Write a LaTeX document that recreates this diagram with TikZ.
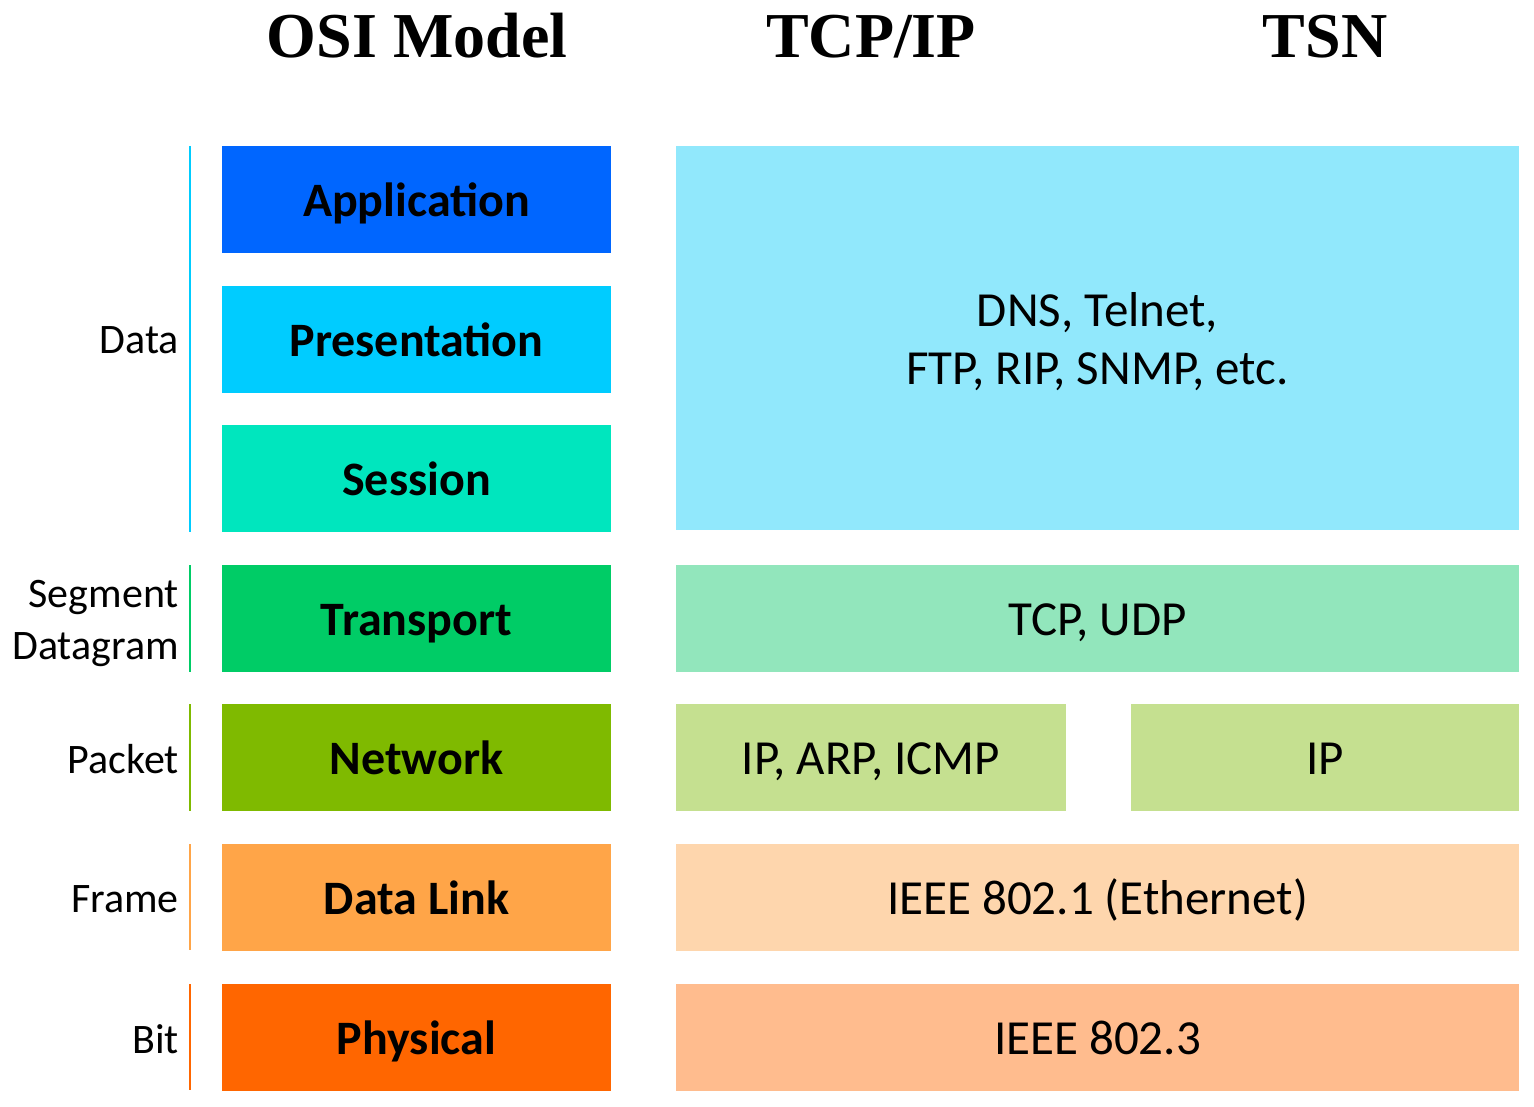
\documentclass[tikz,border=0pt]{standalone}
\usepackage{fontspec}
\setmainfont{Carlito}
\newfontfamily\titlefont{Liberation Serif}
\definecolor{appl}{HTML}{0066FF}
\definecolor{pres}{HTML}{00CCFF}
\definecolor{sess}{HTML}{00E6BE}
\definecolor{tran}{HTML}{00CC66}
\definecolor{netw}{HTML}{7FBA00}
\definecolor{link}{HTML}{FFA548}
\definecolor{phys}{HTML}{FF6600}
\definecolor{upper}{HTML}{91E8FC}
\definecolor{tcpudp}{HTML}{92E6BC}
\definecolor{ip}{HTML}{C5E090}
\definecolor{eth}{HTML}{FED6AD}
\definecolor{wire}{HTML}{FFBC8E}

\begin{document}
\begin{tikzpicture}[x=1pt,y=-1pt,
  layer/.style={minimum width=389pt,minimum height=107pt,inner sep=0pt,
    text height=34pt,text depth=0pt,
    font=\fontsize{48}{58}\selectfont\bfseries},
  proto/.style={minimum height=107pt,inner sep=0pt,align=center,
    text height=34pt,text depth=0pt,
    font=\fontsize{49}{58}\selectfont},
  unit/.style={anchor=east,inner sep=0pt,align=right,
    font=\fontsize{42}{52}\selectfont},
  head/.style={anchor=base,inner sep=0pt,
    font=\titlefont\fontsize{64}{70}\selectfont\bfseries},
  bar/.style={line width=2pt}]
\useasboundingbox (0,0) rectangle (1534,1107);

% headings
\node (osi) at (417,58)  [head] {OSI Model};
\node (tcp) at (871,58)  [head] {TCP/IP};
\node (tsn) at (1325,58) [head] {TSN};

% OSI layers
\node (app)  at (416.5,199.5)  [layer,fill=appl] {Application};
\node (pre)  at (416.5,339.5)  [layer,fill=pres] {Presentation};
\node (ses)  at (416.5,478.5)  [layer,fill=sess] {Session};
\node (tra)  at (416.5,618.5)  [layer,fill=tran] {Transport};
\node (net)  at (416.5,757.5)  [layer,fill=netw] {Network};
\node (dli)  at (416.5,897.5)  [layer,fill=link] {Data Link};
\node (phy)  at (416.5,1037.5) [layer,fill=phys] {Physical};

% data units
\node (data) at (179,340)  [unit] {Data};
\node (seg)  at (179,623)  [unit] {Segment\\Datagram};
\node (pkt)  at (179,759)  [unit] {Packet};
\node (frm)  at (179,899)  [unit] {Frame};
\node (bit)  at (179,1039) [unit] {Bit};
\draw [bar,pres] (190,146) -- (190,532);
\draw [bar,tran] (190,565) -- (190,672);
\draw [bar,netw] (190,704) -- (190,811);
\draw [bar,link] (190,844) -- (190,950);
\draw [bar,phys] (190,984) -- (190,1090);

% protocols
\node (dns)  at (1097.5,338)    [fill=upper,minimum width=843pt,minimum height=384pt,inner sep=0pt] {};
\node (dnstxt) at (1097.5,342)  [inner sep=0pt,align=center,font=\fontsize{49}{58}\selectfont]
  {DNS, Telnet,\\FTP, RIP, SNMP, etc.};
\node (udp)  at (1097.5,618.5)  [proto,fill=tcpudp,minimum width=843pt] {TCP, UDP};
\node (ipa)  at (871,757.5)     [proto,fill=ip,minimum width=390pt] {IP, ARP, ICMP};
\node (ipb)  at (1325,757.5)    [proto,fill=ip,minimum width=388pt] {IP};
\node (ieee) at (1097.5,897.5)  [proto,fill=eth,minimum width=843pt] {IEEE 802.1 (Ethernet)};
\node (phl)  at (1097.5,1037.5) [proto,fill=wire,minimum width=843pt] {IEEE 802.3};
\end{tikzpicture}
\end{document}
